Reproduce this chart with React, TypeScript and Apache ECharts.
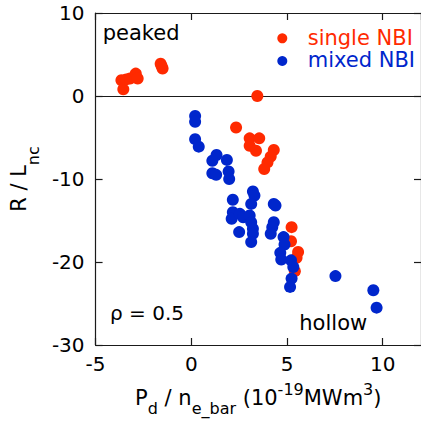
import React, { useEffect, useRef } from "react";
import * as echarts from "echarts";

// single NBI (red) points: [P_d / n_e_bar, R / L_nc]
const singleNBI: number[][] = [
  [-3.65, 1.9], [-3.55, 0.8], [-3.4, 2.0], [-3.2, 2.1], [-2.9, 2.7], [-2.8, 2.1],
  [-1.6, 3.9], [-1.5, 3.3], [-1.55, 3.6],
  [3.45, 0.0],
  [2.34, -3.8], [3.05, -5.1], [3.55, -5.1], [3.05, -6.0], [3.38, -6.6],
  [4.31, -6.5], [4.15, -7.3], [3.98, -8.0], [3.81, -8.8],
  [5.24, -15.8], [5.21, -17.5], [5.58, -18.8], [5.5, -19.5], [5.41, -21.1],
];

// mixed NBI (blue) points
const mixedNBI: number[][] = [
  [0.2, -2.4], [0.2, -3.1], [0.2, -5.2], [0.39, -6.1],
  [1.32, -7.1], [1.1, -7.8], [1.86, -7.7], [1.1, -9.3], [1.3, -9.5], [1.95, -9.1], [1.98, -10.0],
  [3.22, -11.5], [3.3, -12.0], [2.17, -12.5], [3.13, -13.0], [4.31, -13.0], [4.4, -13.2],
  [2.17, -14.0], [2.11, -14.8], [2.54, -14.2], [2.71, -14.6], [3.05, -14.4], [3.13, -15.2],
  [2.5, -16.4], [3.22, -16.0], [3.22, -16.6], [3.13, -17.6],
  [4.31, -15.2], [4.23, -15.8], [4.15, -16.6], [4.82, -17.0], [4.87, -17.9],
  [4.65, -18.9], [4.7, -19.7], [5.21, -19.8], [5.33, -20.6], [5.24, -22.0], [5.16, -23.0],
  [7.53, -21.7], [9.51, -23.4], [9.68, -25.5],
];

const seriesNames = ["single NBI", "mixed NBI"];
const seriesColors = ["#ff2a00", "#0026cc"];
const xRange = [-5, 12];
const yRange = [-30, 10];
const xStep = 5;
const yStep = 10;
const annotations = ["peaked", "hollow", "ρ = 0.5"];

const FONT = "DejaVu Sans";
const AX = "#1a1a1a";

export default function App() {
  const ref = useRef<HTMLDivElement>(null);
  useEffect(() => {
    if (!ref.current) return;
    const chart = echarts.init(ref.current, undefined, { renderer: "svg" });
    const axisCommon = {
      type: "value" as const,
      axisLine: { show: true, onZero: false, lineStyle: { color: AX, width: 1.2 } },
      axisTick: { show: true, inside: true, length: 7, lineStyle: { color: AX, width: 1.2 } },
      splitLine: { show: false },
    };
    chart.setOption({
      animation: false,
      backgroundColor: "#ffffff",
      grid: { left: 93, top: 13, right: -6, bottom: 73 },
      xAxis: [
        {
          ...axisCommon,
          position: "bottom",
          min: xRange[0],
          max: xRange[1],
          interval: xStep,
          axisLabel: { color: "#000", fontSize: 20, fontFamily: FONT, margin: 9, showMaxLabel: false },
          name: "{m|P}{s|d}{m| / n}{s|e_bar}{m| (10}{p|-19}{m|MWm}{p|3}{m|)}",
          nameLocation: "middle",
          nameGap: 36,
          nameTextStyle: {
            color: "#000",
            fontFamily: FONT,
            rich: {
              m: { fontSize: 21, lineHeight: 21, padding: [6, 0, 0, 0], verticalAlign: "top", fontFamily: FONT, color: "#000" },
              s: { fontSize: 16, lineHeight: 16, padding: [19, 0, 0, 0], verticalAlign: "top", fontFamily: FONT, color: "#000" },
              p: { fontSize: 16, lineHeight: 16, padding: [0, 0, 0, 0], verticalAlign: "top", fontFamily: FONT, color: "#000" },
            },
          },
        },
        {
          ...axisCommon,
          position: "top",
          min: xRange[0],
          max: xRange[1],
          interval: xStep,
          axisLabel: { show: false },
        },
      ],
      yAxis: [
        {
          ...axisCommon,
          position: "left",
          min: yRange[0],
          max: yRange[1],
          interval: yStep,
          axisLabel: { color: "#000", fontSize: 20, fontFamily: FONT, margin: 11 },
          name: "{m|R / L}{s|nc}",
          nameLocation: "middle",
          nameGap: 43,
          nameTextStyle: {
            color: "#000",
            fontFamily: FONT,
            rich: {
              m: { fontSize: 21, lineHeight: 21, padding: [0, 0, 0, 0], verticalAlign: "top", fontFamily: FONT, color: "#000" },
              s: { fontSize: 16, lineHeight: 16, padding: [17, 0, 0, 0], verticalAlign: "top", fontFamily: FONT, color: "#000" },
            },
          },
        },
        {
          ...axisCommon,
          position: "right",
          min: yRange[0],
          max: yRange[1],
          interval: yStep,
          axisLabel: { show: false },
        },
      ],
      series: [
        {
          name: seriesNames[0],
          type: "scatter",
          data: singleNBI,
          symbol: "circle",
          symbolSize: 12,
          itemStyle: { color: seriesColors[0], opacity: 1 },
          markLine: {
            silent: true,
            symbol: "none",
            z: 1,
            label: { show: false },
            lineStyle: { color: AX, width: 1.2, type: "solid" },
            data: [{ yAxis: 0 }],
          },
        },
        {
          name: seriesNames[1],
          type: "scatter",
          data: mixedNBI,
          symbol: "circle",
          symbolSize: 12,
          itemStyle: { color: seriesColors[1], opacity: 1 },
        },
      ],
      graphic: [
        { type: "circle", shape: { cx: 282.3, cy: 38.3, r: 5 }, style: { fill: seriesColors[0] }, z: 100 },
        { type: "circle", shape: { cx: 282.3, cy: 61, r: 5 }, style: { fill: seriesColors[1] }, z: 100 },
        {
          type: "text", x: 307.7, y: 37.7, z: 100,
          style: { text: seriesNames[0], fill: seriesColors[0], font: `21px '${FONT}'`, textAlign: "left", textVerticalAlign: "middle" },
        },
        {
          type: "text", x: 307.7, y: 60.4, z: 100,
          style: { text: seriesNames[1], fill: seriesColors[1], font: `21px '${FONT}'`, textAlign: "left", textVerticalAlign: "middle" },
        },
        {
          type: "text", x: 102.7, y: 32.7, z: 100,
          style: { text: annotations[0], fill: "#000", font: `21px '${FONT}'`, textAlign: "left", textVerticalAlign: "middle" },
        },
        {
          type: "text", x: 299.3, y: 323.4, z: 100,
          style: { text: annotations[1], fill: "#000", font: `21px '${FONT}'`, textAlign: "left", textVerticalAlign: "middle" },
        },
        {
          type: "text", x: 110, y: 313, z: 100,
          style: { text: annotations[2], fill: "#000", font: `20px '${FONT}'`, textAlign: "left", textVerticalAlign: "middle" },
        },
      ],
    });
    return () => chart.dispose();
  }, []);
  return (
    <div style={{ position: "fixed", left: 0, top: 0, width: 421, height: 421, overflow: "hidden", background: "#fff" }}>
      <div ref={ref} style={{ width: 421, height: 421 }} />
    </div>
  );
}
